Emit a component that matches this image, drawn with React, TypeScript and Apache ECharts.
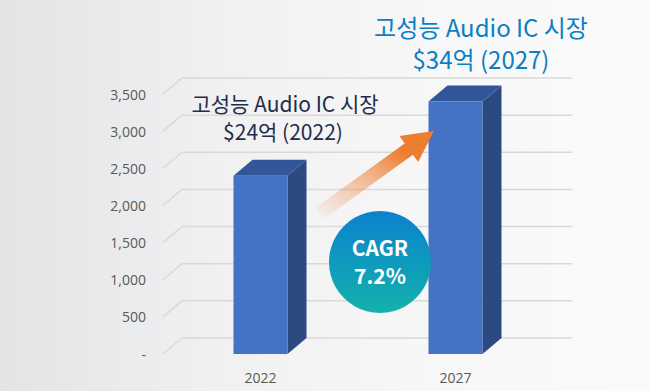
import React, { useEffect, useRef } from "react";
import * as echarts from "echarts";

const CATEGORIES = ["2022", "2027"];
const MARKET_VALUES = [2400, 3400];
const TICKS = [0, 500, 1000, 1500, 2000, 2500, 3000, 3500];
const LABEL_2022 = ["고성능 Audio IC 시장", "$24억 (2022)"];
const LABEL_2027 = ["고성능 Audio IC 시장", "$34억 (2027)"];
const CAGR_TEXT = ["CAGR", "7.2%"];

const DX = 19;
const DY = 16;
const BAR_RATIO = 0.277;
const KFONT = '"Noto Sans CJK KR", "Noto Sans", sans-serif';

export default function App() {
  const ref = useRef<HTMLDivElement>(null);

  useEffect(() => {
    if (!ref.current) return;
    const chart = echarts.init(ref.current, undefined, { renderer: "svg" });

    const tail = [320, 213];
    const tip = [434, 131];
    const vx = tip[0] - tail[0];
    const vy = tip[1] - tail[1];
    const len = Math.sqrt(vx * vx + vy * vy);
    const ux = vx / len, uy = vy / len;
    const nx = -uy, ny = ux;
    const headLen = 31, shaftW = 7, headW = 16;
    const bx = tip[0] - headLen * ux, by = tip[1] - headLen * uy;
    const arrowPts = [
      [tail[0] + shaftW * nx, tail[1] + shaftW * ny],
      [bx + shaftW * nx, by + shaftW * ny],
      [bx + headW * nx, by + headW * ny],
      tip,
      [bx - headW * nx, by - headW * ny],
      [bx - shaftW * nx, by - shaftW * ny],
      [tail[0] - shaftW * nx, tail[1] - shaftW * ny],
    ];

    const textEl = (str: string, x: number, y: number, size: number, color: string, weight = "normal") => ({
      type: "text",
      z: 61,
      x,
      y,
      style: {
        text: str,
        fill: color,
        font: `${weight} ${size}px ${KFONT}`,
        align: "center",
        verticalAlign: "middle",
      },
    });

    const option: any = {
      animation: false,
      backgroundColor: "transparent",
      grid: { left: 163, right: 96, top: 94, bottom: 37, containLabel: false },
      xAxis: {
        type: "category",
        data: CATEGORIES,
        axisLine: { show: false },
        axisTick: { show: false },
        axisLabel: { color: "#595959", fontSize: 14, margin: 16, fontFamily: '"Open Sans", sans-serif' },
      },
      yAxis: {
        type: "value",
        min: 0,
        max: 3500,
        interval: 500,
        splitLine: { show: false },
        axisLine: { show: false },
        axisTick: { show: false },
        axisLabel: {
          color: "#595959",
          fontSize: 14,
          margin: 17,
          fontFamily: '"Open Sans", sans-serif',
          formatter: (v: number) => (v === 0 ? "-" : v.toLocaleString("en-US")),
        },
      },
      series: [
        {
          type: "custom",
          z: 1,
          silent: true,
          data: TICKS.map((t) => [0, t]),
          encode: { x: 0, y: 1 },
          renderItem: (params: any, api: any) => {
            const cs = params.coordSys;
            const y = api.coord([0, api.value(1)])[1];
            return {
              type: "polyline",
              shape: {
                points: [
                  [cs.x, y],
                  [cs.x + DX, y - DY],
                  [cs.x + cs.width + DX, y - DY],
                ],
              },
              style: { stroke: "#d9d9d9", lineWidth: 1.5, fill: null },
            };
          },
        },
        {
          type: "custom",
          z: 3,
          data: MARKET_VALUES.map((v, i) => [i, v]),
          encode: { x: 0, y: 1 },
          renderItem: (params: any, api: any) => {
            const idx = api.value(0);
            const v = api.value(1);
            const top = api.coord([idx, v]);
            const base = api.coord([idx, 0]);
            const bw = api.size([1, 0])[0] * BAR_RATIO;
            const l = top[0] - bw / 2;
            const r = top[0] + bw / 2;
            return {
              type: "group",
              children: [
                {
                  type: "polygon",
                  shape: {
                    points: [
                      [r, top[1]],
                      [r + DX, top[1] - DY],
                      [r + DX, base[1] - DY],
                      [r, base[1]],
                    ],
                  },
                  style: { fill: "#2b4a80" },
                },
                {
                  type: "polygon",
                  shape: {
                    points: [
                      [l, top[1]],
                      [l + DX, top[1] - DY],
                      [r + DX, top[1] - DY],
                      [r, top[1]],
                    ],
                  },
                  style: { fill: "#31569a" },
                },
                {
                  type: "rect",
                  shape: { x: l, y: top[1], width: bw, height: base[1] - top[1] },
                  style: { fill: "#4472c4" },
                },
              ],
            };
          },
        },
      ],
      graphic: [
        {
          type: "polygon",
          z: 50,
          shape: { points: arrowPts },
          style: {
            fill: {
              type: "linear",
              x: 0,
              y: 1,
              x2: 1,
              y2: 0,
              colorStops: [
                { offset: 0, color: "rgba(237,125,49,0)" },
                { offset: 0.45, color: "rgba(237,125,49,0.5)" },
                { offset: 0.75, color: "rgba(237,125,49,1)" },
                { offset: 1, color: "rgba(237,125,49,1)" },
              ],
            },
          },
        },
        {
          type: "circle",
          z: 60,
          shape: { cx: 380, cy: 262, r: 51 },
          style: {
            fill: {
              type: "linear",
              x: 0,
              y: 0,
              x2: 0,
              y2: 1,
              colorStops: [
                { offset: 0, color: "#0a82cd" },
                { offset: 1, color: "#12b2ac" },
              ],
            },
          },
        },
        textEl(CAGR_TEXT[0], 380, 247, 21, "#ffffff", "bold"),
        textEl(CAGR_TEXT[1], 380, 275, 21, "#ffffff", "bold"),
        textEl(LABEL_2027[0], 481, 26, 24, "#0b7ec4"),
        textEl(LABEL_2027[1], 481, 58, 24, "#0b7ec4"),
        textEl(LABEL_2022[0], 285, 103, 21, "#1f2d4a"),
        textEl(LABEL_2022[1], 283, 131, 21, "#1f2d4a"),
      ],
    };

    chart.setOption(option);
    return () => chart.dispose();
  }, []);

  return (
    <div
      ref={ref}
      style={{
        position: "fixed",
        left: 0,
        top: 0,
        width: 649,
        height: 391,
        background: "linear-gradient(90deg, #e3e4e6 0%, #f1f1f2 35%, #f8f8f8 70%, #fafafa 100%)",
      }}
    />
  );
}
